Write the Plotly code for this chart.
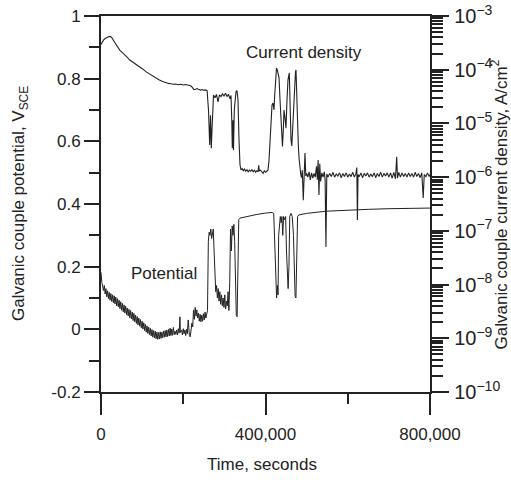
import plotly.graph_objects as go

# ---------------- data (time in thousands of seconds) ----------------
# Galvanic couple potential, V_SCE (left axis)
pot_desc_t_ks = [0, 1, 2, 4, 6, 8, 10, 12, 14, 16,
                 18, 20, 22, 24, 26, 28, 30, 32, 34, 36,
                 38, 40, 42, 44, 46, 48, 50, 52, 54, 56,
                 58, 60, 62, 64, 66, 68, 70, 72, 74, 76,
                 78, 80, 82, 84, 86, 88, 90, 92, 94, 96,
                 98, 100, 102, 104, 106, 108, 110, 112, 114, 116,
                 118, 120, 122, 124, 126, 128, 130, 132, 134, 136,
                 138, 140, 142, 144, 146, 148, 150, 152, 154, 156,
                 158, 160, 162, 164, 166, 168, 170, 172, 174, 176,
                 178]
pot_desc_v = [0.182, 0.158, 0.150, 0.138, 0.124, 0.140, 0.113, 0.130, 0.104, 0.123,
              0.098, 0.118, 0.093, 0.114, 0.089, 0.110, 0.085, 0.107, 0.081, 0.103,
              0.075, 0.098, 0.072, 0.093, 0.066, 0.088, 0.061, 0.083, 0.056, 0.078,
              0.052, 0.074, 0.047, 0.068, 0.043, 0.064, 0.037, 0.060, 0.033, 0.055,
              0.028, 0.051, 0.024, 0.045, 0.019, 0.041, 0.014, 0.036, 0.010, 0.031,
              0.005, 0.026, 0.001, 0.021, -0.004, 0.016, -0.009, 0.011, -0.013, 0.007,
              -0.017, 0.003, -0.021, -0.001, -0.025, -0.004, -0.027, -0.006, -0.030, -0.009,
              -0.032, -0.010, -0.031, -0.008, -0.029, -0.009, -0.027, -0.005, -0.025, -0.004,
              -0.024, -0.002, -0.023, 0.000, -0.021, 0.004, -0.020, 0.001, -0.019, 0.006,
              -0.017]

pot_low_t_ks = [180, 182, 184, 186, 188, 190, 192, 193, 196, 198,
                200, 202, 204, 206, 208, 210, 212, 213, 215, 217,
                219, 221, 223, 225, 227, 229, 231, 233, 235, 237,
                239, 241, 243, 245, 247, 249, 251, 253, 255, 257,
                259]
pot_low_v = [-0.006, -0.016, -0.002, -0.018, 0.002, -0.012, 0.040, -0.010, -0.002, -0.018,
             0.002, -0.014, -0.002, -0.020, 0.000, -0.014, 0.030, -0.012, -0.020, -0.024,
             0.000, 0.020, 0.008, 0.062, 0.032, 0.070, 0.042, 0.062, 0.036, 0.052,
             0.026, 0.048, 0.024, 0.045, 0.026, 0.050, 0.030, 0.055, 0.036, 0.058,
             0.060]

pot_jump_t_ks = [261, 263, 265, 267, 269, 271, 273, 275, 277, 279,
                 281, 283, 285, 287, 289, 291, 293, 295, 297, 299,
                 301, 303, 305, 307, 309, 311, 313, 315, 317, 319,
                 321, 323, 325, 327, 329, 331, 333, 335, 338, 345,
                 360, 380, 400, 416]
pot_jump_v = [0.28, 0.31, 0.30, 0.32, 0.29, 0.31, 0.32, 0.25, 0.15, 0.12,
              0.14, 0.10, 0.13, 0.09, 0.12, 0.08, 0.11, 0.075, 0.10, 0.07,
              0.11, 0.065, 0.09, 0.075, 0.12, 0.06, 0.15, 0.32, 0.25, 0.33,
              0.30, 0.335, 0.28, 0.10, 0.045, 0.04, 0.20, 0.35, 0.355, 0.357,
              0.362, 0.367, 0.371, 0.373]

pot_late_t_ks = [420, 423, 425, 427, 429, 430.5, 432, 434, 436, 438,
                 440, 442, 444, 446, 449, 451, 453, 455, 457, 459,
                 462, 465, 468, 470, 472, 474, 476, 478, 481, 490,
                 500, 547, 600, 650, 700, 750, 800]
pot_late_v = [0.37, 0.25, 0.12, 0.10, 0.14, 0.11, 0.30, 0.35, 0.36, 0.34,
              0.36, 0.30, 0.36, 0.35, 0.36, 0.25, 0.15, 0.13, 0.20, 0.36,
              0.37, 0.36, 0.30, 0.15, 0.105, 0.10, 0.25, 0.36, 0.365, 0.368,
              0.370, 0.377, 0.381, 0.383, 0.385, 0.386, 0.387]

# Galvanic couple current density, log10(A/cm^2) (right axis)
cur_early_t_ks = [0, 3, 6, 10, 14, 18, 22, 26, 30, 34,
                  38, 42, 46, 52, 58, 64, 70, 78, 86, 94,
                  102, 110, 118, 126, 134, 142, 150, 158, 164, 170,
                  176, 182, 188, 194, 200, 206, 212, 218, 222, 226,
                  230, 234, 238, 242, 246, 250, 254, 258]
cur_early_log = [-3.53, -3.48, -3.45, -3.42, -3.40, -3.385, -3.38, -3.40, -3.45, -3.50,
                 -3.56, -3.60, -3.64, -3.68, -3.72, -3.77, -3.82, -3.86, -3.91, -3.95,
                 -3.99, -4.04, -4.08, -4.12, -4.16, -4.19, -4.22, -4.245, -4.255, -4.26,
                 -4.27, -4.265, -4.28, -4.27, -4.285, -4.275, -4.29, -4.30, -4.33, -4.37,
                 -4.365, -4.35, -4.37, -4.38, -4.37, -4.385, -4.375, -4.39]

cur_dip_t_ks = [261.4, 262.6, 264.3, 266.3, 268.2, 269.9, 271.6, 273.6, 277.2, 280.8,
                284.5, 288.1, 291.8, 295.4, 299.1, 302.7, 306.4, 310.0, 313.7, 316.1,
                318.0, 319.3, 321.0, 322.2, 324.1, 325.8, 328.3, 330.7, 333.1, 335.6,
                338.0, 340.4]
cur_dip_log = [-4.75, -5.12, -5.40, -4.85, -5.46, -5.12, -4.56, -4.47, -4.52, -4.46,
               -4.60, -4.47, -4.50, -4.45, -4.49, -4.44, -4.50, -4.46, -4.54, -4.48,
               -4.94, -5.46, -4.94, -5.50, -4.75, -4.53, -4.41, -4.39, -4.56, -5.31,
               -5.77, -5.867]

cur_flat_t_ks = [343, 346, 349, 352, 355, 358, 361, 364, 367, 370,
                 373, 376, 379, 382, 383.5, 385, 388, 391, 394, 397,
                 400, 403, 406]
cur_flat_log = [-5.84, -5.88, -5.85, -5.89, -5.86, -5.90, -5.87, -5.89, -5.86, -5.90,
                -5.87, -5.91, -5.88, -5.90, -5.78, -5.88, -5.87, -5.90, -5.93, -5.88,
                -5.91, -5.89, -5.87]

cur_burst_t_ks = [408.5, 410.9, 413.4, 415.8, 418.3, 420.7, 422.4, 424.3, 426.8, 428.7,
                  430.4, 432.9, 435.3, 437.3, 439.0, 441.3, 443.3, 445.0, 447.5, 449.8,
                  452.3, 454.7, 457.9, 460.0, 462.0, 464.0, 466.1, 468.1, 470.5, 472.9,
                  474.2, 476.1, 477.8, 479.8, 481.5, 483.4, 485.6, 487.5, 489.5, 491.9,
                  493.6, 496.0, 498.0]
cur_burst_log = [-5.69, -5.31, -4.94, -4.66, -4.62, -4.75, -4.47, -4.19, -3.968, -4.005,
                 -4.10, -4.15, -4.56, -4.94, -5.31, -5.43, -5.12, -4.75, -4.90, -5.09,
                 -4.56, -4.19, -4.06, -4.75, -5.31, -5.42, -5.03, -4.84, -4.47, -4.04,
                 -4.005, -4.56, -5.31, -5.40, -5.64, -5.83, -5.94, -6.01, -5.87, -6.43,
                 -5.94, -5.55, -5.98]

cur_tail_t_ks = [500, 503, 506, 509, 512, 515, 518, 521, 524, 526,
                 528, 530, 532, 534, 537, 540, 543, 545, 547, 549,
                 552, 556, 560, 564, 568, 572, 576, 580, 584, 588,
                 592, 596, 600, 604, 608, 612, 616, 620, 622, 623.5,
                 625, 628, 632, 636, 640, 644, 648, 652, 656, 660,
                 664, 668, 672, 676, 680, 684, 688, 692, 696, 700,
                 704, 708, 712, 716, 719, 721, 724, 728, 732, 736,
                 740, 744, 748, 752, 756, 760, 764, 768, 772, 776,
                 780, 783.5, 786, 790, 794, 798, 800]
cur_tail_log = [-5.93, -6.00, -5.90, -6.05, -5.92, -6.02, -5.93, -6.00, -5.80, -6.05,
                -5.68, -6.33, -5.75, -6.08, -5.92, -6.00, -5.90, -6.05, -7.30, -5.94,
                -6.00, -5.93, -5.99, -5.91, -6.00, -5.94, -5.98, -5.92, -6.01, -5.93,
                -5.99, -5.92, -6.00, -5.94, -5.99, -5.91, -6.00, -5.93, -5.82, -6.80,
                -5.95, -5.99, -5.92, -6.01, -5.93, -5.98, -5.92, -6.00, -5.94, -5.99,
                -5.92, -6.01, -5.93, -5.99, -5.91, -6.00, -5.93, -5.98, -5.92, -6.00,
                -5.92, -6.02, -5.91, -6.03, -5.62, -6.02, -5.91, -6.00, -5.92, -5.99,
                -5.93, -6.00, -5.92, -5.99, -5.93, -6.00, -5.91, -5.99, -5.93, -6.01,
                -5.92, -6.39, -5.95, -5.99, -5.92, -5.99, -5.95]

# axis ticks
x_tick_vals = [0, 400000, 800000]
x_tick_text = ["0", "400,000", "800,000"]
x_minor_vals = [200000, 600000]
y_tick_vals = [-0.2, 0, 0.2, 0.4, 0.6, 0.8, 1]
y_tick_text = ["-0.2", "0", "0.2", "0.4", "0.6", "0.8", "1"]
y_minor_vals = [-0.1, 0.1, 0.3, 0.5, 0.7, 0.9]

# ---------------- assemble ----------------
pot_t = pot_desc_t_ks + pot_low_t_ks + pot_jump_t_ks + pot_late_t_ks
pot_v = pot_desc_v + pot_low_v + pot_jump_v + pot_late_v
cur_t = cur_early_t_ks + cur_dip_t_ks + cur_flat_t_ks + cur_burst_t_ks + cur_tail_t_ks
cur_l = cur_early_log + cur_dip_log + cur_flat_log + cur_burst_log + cur_tail_log
assert len(pot_t) == len(pot_v), (len(pot_t), len(pot_v))
assert len(cur_t) == len(cur_l), (len(cur_t), len(cur_l))

pot_x = [t * 1000 for t in pot_t]
cur_x = [t * 1000 for t in cur_t]
cur_y = [10 ** l for l in cur_l]

INK = "#222222"
FONT = "Liberation Sans, Arial, Helvetica, sans-serif"

fig = go.Figure()
fig.add_trace(go.Scatter(x=pot_x, y=pot_v, mode="lines", name="Potential",
                         line=dict(color=INK, width=1), yaxis="y"))
fig.add_trace(go.Scatter(x=cur_x, y=cur_y, mode="lines", name="Current density",
                         line=dict(color=INK, width=1.1), yaxis="y2"))

fig.update_layout(
    width=511, height=480,
    margin=dict(l=101, r=81, t=16, b=88, autoexpand=False),
    paper_bgcolor="white", plot_bgcolor="white",
    showlegend=False,
    font=dict(family=FONT, size=17, color=INK),
    xaxis=dict(
        range=[0, 800000], tickvals=x_tick_vals, ticktext=x_tick_text,
        ticks="outside", ticklen=21, tickwidth=2, tickcolor=INK,
        ticklabelstandoff=5,
        minor=dict(tickvals=x_minor_vals, ticks="outside", ticklen=10,
                   tickwidth=2, tickcolor=INK, showgrid=False),
        showline=True, linewidth=2, linecolor=INK, mirror=True,
        showgrid=False, zeroline=False, automargin=False,
    ),
    yaxis=dict(
        range=[-0.2, 1], tickvals=y_tick_vals, ticktext=y_tick_text,
        ticks="outside", ticklen=15, tickwidth=2, tickcolor=INK,
        minor=dict(tickvals=y_minor_vals, ticks="outside", ticklen=10,
                   tickwidth=2, tickcolor=INK, showgrid=False),
        showline=True, linewidth=2, linecolor=INK,
        showgrid=False, zeroline=False, automargin=False,
    ),
    yaxis2=dict(
        overlaying="y", side="right", type="log", range=[-10, -3],
        dtick=1, exponentformat="power", tickfont=dict(size=16),
        ticks="outside", ticklen=17, tickwidth=2, tickcolor=INK,
        ticklabelstandoff=2,
        minor=dict(ticks="outside", ticklen=11, tickwidth=1.5, tickcolor=INK,
                   showgrid=False),
        showline=True, linewidth=2, linecolor=INK,
        showgrid=False, zeroline=False, automargin=False,
    ),
    annotations=[
        dict(text="Current density", x=492400, y=0.885, xref="x", yref="y",
             showarrow=False, font=dict(size=17, color=INK)),
        dict(text="Potential", x=153200, y=0.178, xref="x", yref="y",
             showarrow=False, font=dict(size=17, color=INK)),
        dict(text="Time, seconds", x=0.489, y=-0.194, xref="paper", yref="paper",
             xanchor="center", yanchor="middle", showarrow=False,
             font=dict(size=17, color=INK)),
        dict(text="Galvanic couple potential, V<sub>SCE</sub>", x=-0.246, y=0.5,
             xref="paper", yref="paper", xanchor="center", yanchor="middle",
             textangle=-90, showarrow=False, font=dict(size=17, color=INK)),
        dict(text="Galvanic couple current density, A/cm<sup>2</sup>", x=1.211, y=0.5,
             xref="paper", yref="paper", xanchor="center", yanchor="middle",
             textangle=-90, showarrow=False, font=dict(size=17, color=INK)),
    ],
)

fig.write_html("out.html", config={"displayModeBar": False},
               post_script="document.body.style.margin='0px';")
